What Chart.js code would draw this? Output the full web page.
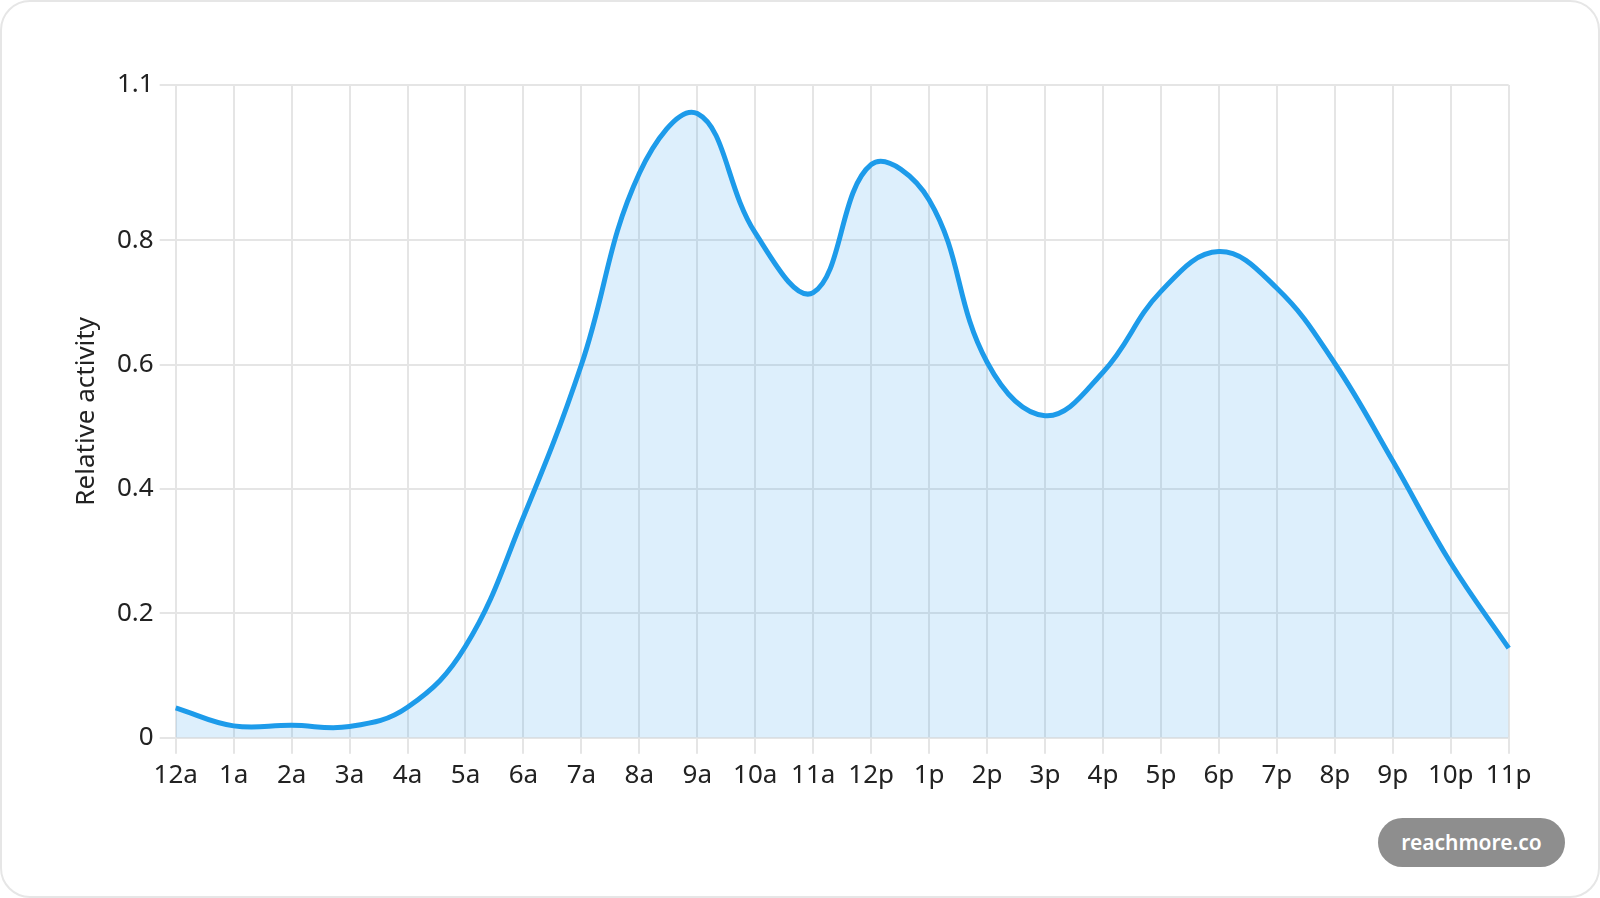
<!DOCTYPE html>
<html>
<head>
<meta charset="utf-8">
<script src="https://cdn.jsdelivr.net/npm/chart.js@4.4.1/dist/chart.umd.min.js"></script>
<style>
  html, body { margin: 0; padding: 0; background: #ffffff; }
  #card {
    position: absolute; left: 0; top: 0; width: 1600px; height: 898px;
    box-sizing: border-box; border: 2px solid #e6e6e6; border-radius: 30px;
    background: #ffffff;
  }
  #chart { position: absolute; left: 0; top: 0; }
  #badge {
    position: absolute; left: 1378px; top: 818px; width: 187px; height: 49px;
    border-radius: 25px; background: #8e8e8e; color: #ffffff;
    font-family: "Noto Sans", sans-serif; font-weight: 600; font-size: 21px;
    line-height: 49px; text-align: center;
  }
</style>
</head>
<body>
<div id="card"></div>
<canvas id="chart" width="1600" height="898"></canvas>
<div id="badge">reachmore.co</div>
<script>
// ---- data ----
const hours = ['12a','1a','2a','3a','4a','5a','6a','7a','8a','9a','10a','11a',
               '12p','1p','2p','3p','4p','5p','6p','7p','8p','9p','10p','11p'];
const activity = [0.048, 0.019, 0.020, 0.018, 0.049, 0.147, 0.355, 0.600,
                  0.908, 1.004, 0.812, 0.716, 0.922, 0.865, 0.604, 0.518,
                  0.588, 0.718, 0.782, 0.723, 0.602, 0.445, 0.281, 0.144];
const yMin = 0;
const yMax = 1.05;
const yStep = 0.2;
const yTitle = 'Relative activity';

const FONT = '"Noto Sans", "Open Sans", sans-serif';
const GRID = '#e5e5e5';
const TEXT = '#222222';

new Chart(document.getElementById('chart'), {
  type: 'line',
  data: {
    labels: hours,
    datasets: [{
      data: activity,
      borderColor: '#1d9bea',
      backgroundColor: 'rgba(54,162,235,0.17)',
      borderWidth: 5,
      fill: 'origin',
      tension: 0.4,
      pointRadius: 0,
      pointHoverRadius: 0
    }]
  },
  options: {
    responsive: false,
    animation: false,
    devicePixelRatio: 1,
    layout: { padding: { left: 0, top: 85, right: 91.3, bottom: 100.3 } },
    plugins: { legend: { display: false }, tooltip: { enabled: false } },
    scales: {
      x: {
        grid: { color: GRID, lineWidth: 2, tickLength: 16 },
        border: { color: GRID, width: 2 },
        ticks: { font: { family: FONT, size: 26 }, color: TEXT, padding: 6,
                 maxRotation: 0, autoSkip: false },
        afterFit: s => { s.height = 60; }
      },
      y: {
        min: yMin, max: yMax,
        grid: { color: GRID, lineWidth: 2, tickLength: 16 },
        border: { color: GRID, width: 2 },
        ticks: { stepSize: yStep, font: { family: FONT, size: 26 }, color: TEXT, padding: 6,
                 callback: v => String(Math.round(v * 10) / 10) },
        afterBuildTicks: s => {
          s.ticks = s.ticks.filter(t => t.value === yMax || yMax - t.value > yStep / 2 + 1e-9);
        },
        title: { display: true, text: yTitle, color: TEXT,
                 font: { family: FONT, size: 26 }, padding: { top: 71.4, bottom: 0 } },
        afterFit: s => { s.width = 175.7; }
      }
    }
  }
});
</script>
</body>
</html>
